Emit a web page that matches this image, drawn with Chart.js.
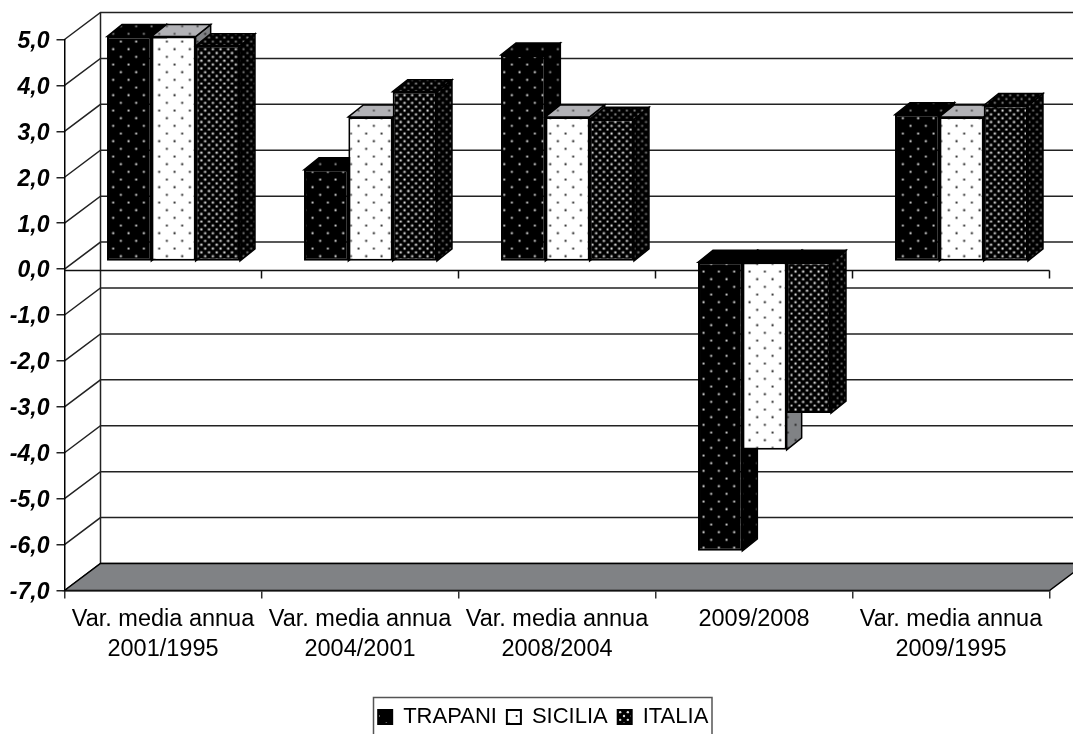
<!DOCTYPE html>
<html>
<head>
<meta charset="utf-8">
<style>
body { margin: 0; background: #fff; overflow: hidden; }
canvas { display: block; }
</style>
<script src="https://cdn.jsdelivr.net/npm/chart.js@4"></script>
</head>
<body>
<canvas id="chart" width="1073" height="734"></canvas>
<script>
var categories = [
	['Var. media annua', '2001/1995'],
	['Var. media annua', '2004/2001'],
	['Var. media annua', '2008/2004'],
	['2009/2008'],
	['Var. media annua', '2009/1995'],
];
var trapani = [4.9, 2.0, 4.5, -6.3, 3.2];
var sicilia = [4.9, 3.15, 3.15, -4.1, 3.15];
var italia = [4.7, 3.7, 3.1, -3.3, 3.4];

var wallDx = 36, wallDy = -27; // profondita' del "box" 3D
var barDx = 15, barDy = -12; // profondita' delle barre
var barShiftX = 10.5, barShiftY = -7.5; // barre staccate dal piano frontale

// tessuto a puntini, 46px = 3 passi
function dots(bg, dot, step, r){
	var c = document.createElement('canvas');
	c.width = 46; c.height = 46;
	var g = c.getContext('2d');
	g.fillStyle = bg;
	g.fillRect(0, 0, 46, 46);
	g.fillStyle = dot;
	var n = Math.round(46 / step);
	for(var j = 0; j < n * 2; j++){
		for(var i = 0; i < n; i++){
			var x = (i + (j % 2) / 2) * step + 3;
			var y = j * step / 2 + 3;
			g.beginPath();
			g.arc(x % 46, y % 46, r, 0, Math.PI * 2);
			g.fill();
		}
	}
	return document.getElementById('chart').getContext('2d').createPattern(c, 'repeat');
}

var faces = [
	{front: dots('#000', '#eee', 46 / 3, 1.1), top: dots('#000', '#999', 46 / 3, 1.1), side: dots('#000', '#999', 46 / 3, 1.1)},
	{front: dots('#fff', '#111', 46 / 3, 1.1), top: dots('#b2b2b6', '#444', 46 / 3, 1.1), side: dots('#808285', '#222', 46 / 3, 1.1)},
	{front: dots('#000', '#ddd', 46 / 6, 1.2), top: dots('#000', '#999', 46 / 6, 1.1), side: dots('#000', '#808080', 46 / 6, 1.1)},
];

function poly(ctx, pts, fill){
	ctx.beginPath();
	ctx.moveTo(pts[0][0], pts[0][1]);
	pts.slice(1).forEach(p => ctx.lineTo(p[0], p[1]));
	ctx.closePath();
	ctx.fillStyle = fill;
	ctx.fill();
	ctx.lineWidth = 1.5;
	ctx.strokeStyle = '#000';
	ctx.stroke();
}

// pareti di fondo, griglia e pavimento
var wallPlugin = {
	id: 'wall',
	afterLayout(chart){
		// legenda centrata fuori asse, come nell'originale
		chart.legend.left = 37;
		chart.legend.top += 4;
		// etichette asse y un po' piu' in basso
		var y = chart.scales.y;
		if(!y.shifted){
			var orig = y.drawLabels;
			y.drawLabels = function(area){
				this.ctx.save();
				this.ctx.translate(0, 2);
				orig.call(this, area);
				this.ctx.restore();
			};
			y.shifted = true;
		}
	},
	beforeDraw(chart){
		var ctx = chart.ctx, a = chart.chartArea, y = chart.scales.y;
		ctx.save();
		ctx.strokeStyle = '#222';
		ctx.lineWidth = 1.5;
		y.ticks.forEach(t => {
			var py = y.getPixelForValue(t.value);
			ctx.beginPath();
			ctx.moveTo(a.left, py);
			ctx.lineTo(a.left + wallDx, py + wallDy);
			ctx.lineTo(a.right + wallDx, py + wallDy);
			ctx.stroke();
		});
		ctx.beginPath();
		ctx.moveTo(a.left + wallDx, a.top + wallDy);
		ctx.lineTo(a.left + wallDx, a.bottom + wallDy);
		ctx.stroke();
		poly(ctx, [
			[a.left, a.bottom],
			[a.left + wallDx, a.bottom + wallDy],
			[a.right + wallDx, a.bottom + wallDy],
			[a.right, a.bottom],
		], '#808285');
		ctx.restore();
	},
	beforeDatasetsDraw(chart){
		var ctx = chart.ctx, a = chart.chartArea;
		var zero = chart.scales.y.getPixelForValue(0) + 1.5;
		ctx.save();
		ctx.strokeStyle = '#111';
		ctx.lineWidth = 1.5;
		ctx.beginPath();
		ctx.moveTo(a.left, zero);
		ctx.lineTo(a.right, zero);
		var w = a.width / categories.length;
		for(var i = 1; i <= categories.length; i++){
			ctx.moveTo(a.left + w * i, zero);
			ctx.lineTo(a.left + w * i, zero + 8);
		}
		ctx.stroke();
		// barre: da sinistra a destra, ogni fronte copre il fianco precedente
		ctx.translate(barShiftX, barShiftY);
		chart.data.datasets.forEach((ds, i) => {
			var meta = chart.getDatasetMeta(i);
			meta.data.forEach(bar => {
				var l = bar.x - bar.width / 2, r = bar.x + bar.width / 2;
				var top = Math.min(bar.y, bar.base), bot = Math.max(bar.y, bar.base);
				var neg = bar.y > bar.base;
				poly(ctx, [[r, top], [r + barDx, top + barDy], [r + barDx, bot + barDy], [r, bot]], faces[i].side);
				poly(ctx, [[l, top], [l + barDx, top + barDy], [r + barDx, top + barDy], [r, top]], neg ? '#000' : faces[i].top);
			});
			meta.controller.draw();
		});
		ctx.restore();
		return false;
	},
	afterDraw(chart){
		var ctx = chart.ctx;
		ctx.save();
		ctx.strokeStyle = '#555';
		ctx.lineWidth = 1.5;
		ctx.strokeRect(373.5, 697.5, 338.5, 60);
		ctx.restore();
	},
};

var chart = new Chart(document.getElementById('chart'), {
	type: 'bar',
	data: {
		labels: categories,
		datasets: [
			{label: 'TRAPANI', data: trapani, backgroundColor: faces[0].front},
			{label: 'SICILIA', data: sicilia, backgroundColor: faces[1].front},
			{label: 'ITALIA', data: italia, backgroundColor: faces[2].front},
		],
	},
	options: {
		responsive: false,
		animation: false,
		layout: {padding: {left: 0, right: 23.5, top: 39.5, bottom: 0}},
		datasets: {bar: {
			categoryPercentage: 0.675,
			barPercentage: 1,
			borderColor: '#000',
			borderWidth: 2,
			borderSkipped: false,
		}},
		scales: {
			x: {
				grid: {offset: true, drawOnChartArea: false, color: '#333', tickLength: 8, lineWidth: 1.5},
				border: {color: '#111', width: 1.5},
				ticks: {
					color: '#000',
					maxRotation: 0,
					autoSkip: false,
					padding: 6,
					font: {family: 'Liberation Sans', size: 23.5, lineHeight: 1.28},
				},
				afterFit: s => { s.height = 101.5; },
			},
			y: {
				min: -7,
				max: 5,
				grid: {drawOnChartArea: false, color: '#222', tickLength: 8, lineWidth: 1.5},
				border: {color: '#000', width: 1.5},
				ticks: {
					stepSize: 1,
					color: '#000',
					padding: 7,
					font: {family: 'Liberation Sans', size: 23, weight: 'bold', style: 'italic'},
					callback: v => v.toFixed(1).replace('.', ','),
				},
				afterFit: s => { s.width = 64.5; },
			},
		},
		plugins: {
			tooltip: {enabled: false},
			legend: {
				position: 'bottom',
				labels: {
					color: '#000',
					boxWidth: 14,
					boxHeight: 14,
					padding: 10,
					font: {family: 'Liberation Sans', size: 22},
				},
			},
		},
	},
	plugins: [wallPlugin],
});
</script>
</body>
</html>
